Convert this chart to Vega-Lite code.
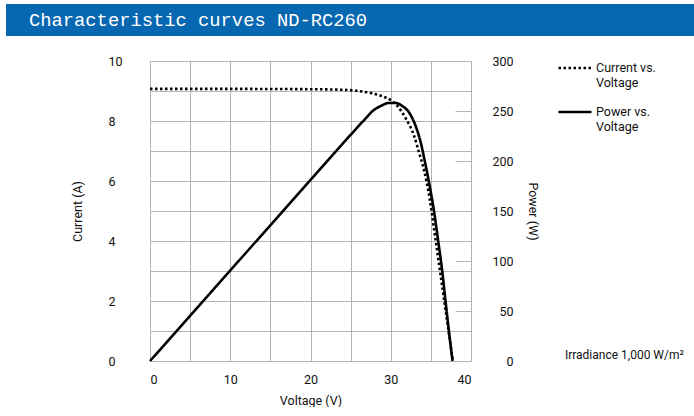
{
  "$schema": "https://vega.github.io/schema/vega-lite/v6.json",
  "background": "white",
  "padding": {"left": 6, "top": 4, "right": 0, "bottom": 0},
  "spacing": 19,
  "config": {
    "font": "Roboto",
    "view": {"stroke": null},
    "axis": {"labelColor": "#111111", "titleColor": "#111111", "labelFontSize": 12.5, "titleFontSize": 12.5, "titleFontWeight": "normal"}
  },
  "datasets": {
    "current": [
      {"v": 0, "a": 9.07}, {"v": 10, "a": 9.07}, {"v": 20, "a": 9.06}, {"v": 24, "a": 9.04},
      {"v": 26, "a": 9.0}, {"v": 27.7, "a": 8.92}, {"v": 29, "a": 8.82}, {"v": 29.8, "a": 8.73},
      {"v": 30.8, "a": 8.51}, {"v": 31.9, "a": 8.07}, {"v": 32.9, "a": 7.51}, {"v": 33.5, "a": 6.97},
      {"v": 34.2, "a": 6.3}, {"v": 34.86, "a": 5.4}, {"v": 35.4, "a": 4.39}, {"v": 36, "a": 3.26},
      {"v": 36.5, "a": 2.32}, {"v": 37, "a": 1.38}, {"v": 37.5, "a": 0.44}, {"v": 37.73, "a": 0}
    ],
    "power": [
      {"v": 0, "w": 0}, {"v": 10, "w": 90.5}, {"v": 20, "w": 181}, {"v": 26, "w": 235},
      {"v": 26.88, "w": 242.7}, {"v": 27.7, "w": 249.7}, {"v": 28.75, "w": 255}, {"v": 29.78, "w": 258},
      {"v": 30.62, "w": 258}, {"v": 31.44, "w": 255}, {"v": 32.27, "w": 248.7}, {"v": 33.1, "w": 235},
      {"v": 33.73, "w": 218.7}, {"v": 34.27, "w": 198.7}, {"v": 34.85, "w": 175}, {"v": 35.35, "w": 152},
      {"v": 35.93, "w": 119}, {"v": 36.43, "w": 89}, {"v": 36.84, "w": 59},
      {"v": 37.26, "w": 29}, {"v": 37.7, "w": 0}
    ]
  },
  "vconcat": [
    {
      "width": 688,
      "height": 32,
      "view": {"fill": "#0867b1", "stroke": null},
      "data": {"values": [{"label": "Characteristic curves ND-RC260"}]},
      "mark": {"type": "text", "font": "Liberation Mono", "fontSize": 18.8, "color": "white", "align": "left", "baseline": "middle", "dx": 23},
      "encoding": {
        "text": {"field": "label"},
        "x": {"datum": 0, "type": "quantitative", "scale": {"domain": [0, 1]}, "axis": null}
      }
    },
    {
      "spacing": 0,
      "hconcat": [
        {
          "width": 65,
          "height": 300,
          "view": {"fill": "white", "stroke": null},
          "data": {"values": [{"blank": ""}]},
          "mark": {"type": "text"},
          "encoding": {"text": {"field": "blank"}}
        },
        {
          "width": 321,
          "height": 300,
          "view": {"fill": "white", "stroke": null},
          "layer": [
            {
              "data": {"name": "current"},
              "mark": {"type": "line", "interpolate": "monotone", "strokeWidth": 2.6, "color": "black"},
              "encoding": {
                "x": {
                  "field": "v", "type": "quantitative",
                  "scale": {"domain": [0, 40], "nice": false},
                  "axis": {
                    "values": [0, 5, 10, 15, 20, 25, 30, 35, 40],
                    "labelExpr": "datum.value % 10 === 0 ? datum.label : ''",
                    "grid": true, "gridColor": "#b4b4b4", "ticks": false, "domain": false,
                    "labelPadding": 12, "title": "Voltage (V)", "titlePadding": 9
                  }
                },
                "y": {
                  "field": "a", "type": "quantitative",
                  "scale": {"domain": [0, 10], "nice": false},
                  "axis": {
                    "values": [0, 1, 2, 3, 4, 5, 6, 7, 8, 9, 10],
                    "labelExpr": "datum.value % 2 === 0 ? datum.label : ''",
                    "grid": true, "gridColor": "#b4b4b4", "ticks": false, "domain": false,
                    "labelAlign": "left", "labelPadding": 42,
                    "title": "Current (A)", "titlePadding": 24
                  }
                },
                "strokeDash": {
                  "datum": "Current vs. Voltage",
                  "scale": {"domain": ["Current vs. Voltage", "Power vs. Voltage"], "range": [[2.5, 2.5], [1, 0]]},
                  "legend": {
                    "title": null,
                    "orient": "none",
                    "legendX": 551,
                    "legendY": 46,
                    "symbolType": "stroke",
                    "symbolSize": 1089,
                    "symbolStrokeWidth": 2.6,
                    "symbolStrokeColor": "black",
                    "labelFontSize": 12.5,
                    "labelColor": "#111111",
                    "labelOffset": 3,
                    "rowPadding": 5,
                    "labelExpr": "datum.label === 'Current vs. Voltage' ? ['Current vs.', 'Voltage'] : ['Power vs.', 'Voltage']"
                  }
                }
              }
            },
            {
              "layer": [
                {
                  "data": {"name": "power"},
                  "mark": {"type": "line", "interpolate": "monotone", "strokeWidth": 2.6, "color": "black"},
                  "encoding": {
                    "x": {"field": "v", "type": "quantitative"},
                    "y": {
                      "field": "w", "type": "quantitative",
                      "scale": {"domain": [0, 300], "nice": false},
                      "axis": {
                        "orient": "right",
                        "values": [0, 50, 100, 150, 200, 250, 300],
                        "grid": false, "domain": false, "ticks": true,
                        "tickSize": -16, "tickColor": "#b4b4b4",
                        "labelAlign": "right", "labelPadding": 58,
                        "title": "Power (W)", "titlePadding": 12
                      }
                    },
                    "strokeDash": {"datum": "Power vs. Voltage"}
                  }
                },
                {
                  "data": {"values": [{"note": "Irradiance 1,000 W/m²"}]},
                  "mark": {"type": "text", "align": "left", "baseline": "middle", "dy": -6, "fontSize": 12, "color": "#111111"},
                  "encoding": {
                    "x": {"datum": 51.7, "type": "quantitative"},
                    "y": {"datum": 0, "type": "quantitative"},
                    "text": {"field": "note"}
                  }
                }
              ]
            }
          ],
          "resolve": {"scale": {"y": "independent"}}
        }
      ]
    }
  ]
}
